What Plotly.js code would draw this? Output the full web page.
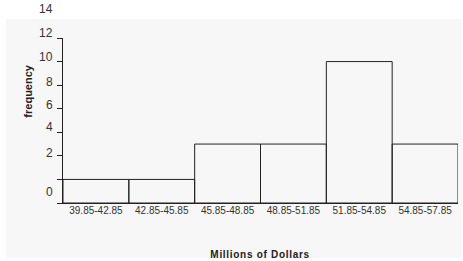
<!DOCTYPE html>
<html>
<head>
<meta charset="utf-8">
<script src="https://cdn.plot.ly/plotly-3.0.1.min.js"></script>
<style>
  html, body { margin: 0; padding: 0; background: #ffffff; }
  #chart { width: 463px; height: 261px; }
</style>
</head>
<body>
<div id="chart"></div>
<script>
// Categories (class intervals, millions of dollars)
const categories = ['39.85-42.85', '42.85-45.85', '45.85-48.85', '48.85-51.85', '51.85-54.85', '54.85-57.85'];
// Bar heights measured from the axis baseline, in y-axis tick units (tick step = 2)
const barHeights = [2, 2, 5, 5, 12, 5];
// Y tick label texts as printed in the reference and where they sit on the axis
const yLabels = ['0', '2', '4', '6', '8', '10', '12', '14'];
const yLabelPos = [0.93, 4.28, 6.45, 8.32, 10.27, 12.35, 14.42, 16.42];
const xTitle = 'Millions of Dollars';
const yTitle = 'frequency';

const Y_MAX = 14;

const trace = {
  type: 'bar',
  x: categories,
  y: barHeights,
  marker: { color: 'rgba(0,0,0,0)', line: { color: '#222222', width: 1 } },
  hoverinfo: 'skip'
};

const annotations = yLabels.map((t, i) => ({
  text: t, xref: 'paper', yref: 'paper', x: 0, y: yLabelPos[i] / Y_MAX,
  xanchor: 'right', yanchor: 'middle', xshift: -8, textangle: 0, showarrow: false,
  font: { family: 'Arial, Liberation Sans, sans-serif', size: 12, color: '#333333' }
}));
annotations.push({
  text: xTitle, xref: 'paper', yref: 'paper', x: 0.5, y: 0,
  xanchor: 'center', yanchor: 'top', yshift: -44, textangle: 0, showarrow: false,
  font: { family: 'Arial, Liberation Sans, sans-serif', size: 10, color: '#222222', weight: 'bold' }
});
annotations.push({
  text: yTitle, xref: 'paper', yref: 'paper', x: 0, y: 0.675,
  xanchor: 'center', yanchor: 'middle', xshift: -35, textangle: -90, showarrow: false,
  font: { family: 'Arial, Liberation Sans, sans-serif', size: 11, color: '#222222', weight: 'bold' }
});

const layout = {
  width: 463, height: 261,
  margin: { l: 63, r: 5, t: 38, b: 58, pad: 0 },
  paper_bgcolor: '#ffffff',
  plot_bgcolor: 'rgba(0,0,0,0)',
  showlegend: false,
  bargap: 0,
  xaxis: {
    type: 'category', range: [-0.5, 5.5], fixedrange: true,
    showline: true, linecolor: '#222222', linewidth: 1,
    showgrid: false, zeroline: false, ticks: '',
    ticklabelstandoff: -2,
    tickfont: { family: 'Arial, Liberation Sans, sans-serif', size: 10, color: '#333333' }
  },
  yaxis: {
    range: [0, Y_MAX], tick0: 0, dtick: 2, fixedrange: true,
    showline: true, linecolor: '#222222', linewidth: 1,
    showgrid: false, zeroline: false,
    ticks: 'outside', ticklen: 5, tickcolor: '#222222', tickwidth: 1,
    showticklabels: false
  },
  shapes: [{
    type: 'rect', xref: 'paper', yref: 'paper', layer: 'below',
    x0: -0.1443, x1: 1.0101, y0: -0.3333, y1: 1.1152,
    fillcolor: '#f7f7f7', line: { width: 0 }
  }],
  annotations: annotations
};

Plotly.newPlot('chart', [trace], layout, { displayModeBar: false, staticPlot: true }).then(() => {
  document.querySelectorAll('#chart .annotation-text').forEach(el => {
    if (el.textContent === xTitle) el.style.letterSpacing = '0.7px';
  });
});
</script>
</body>
</html>
